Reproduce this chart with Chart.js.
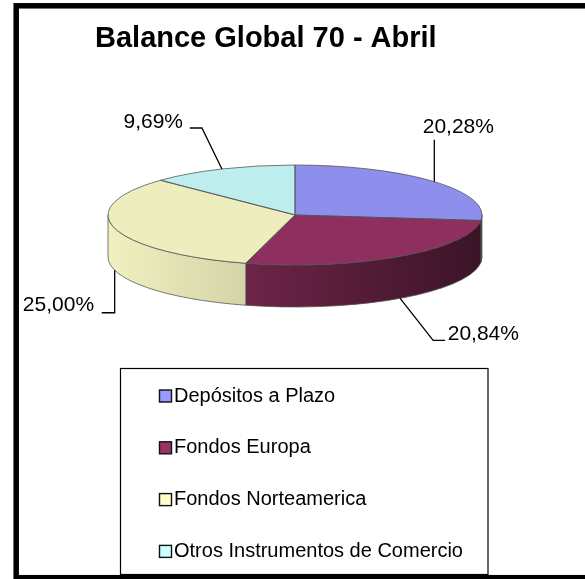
<!DOCTYPE html>
<html>
<head>
<meta charset="utf-8">
<title>Balance Global 70 - Abril</title>
<script src="https://cdn.jsdelivr.net/npm/chart.js@4/dist/chart.umd.min.js"></script>
<style>
  html, body { margin: 0; padding: 0; background: #fff; }
  canvas { display: block; }
</style>
</head>
<body>
<canvas id="balanceChart" width="585" height="579"></canvas>
<script>
// Chart data
const categories = ['Depósitos a Plazo', 'Fondos Europa', 'Fondos Norteamerica', 'Otros Instrumentos de Comercio'];
const shares = [20.28, 20.84, 25.00, 9.69];
const palette = ['#9999FF', '#993366', '#FFFFCC', '#CCFFFF'];

const FONT = "'Liberation Sans', Arial, sans-serif";
const EDGE = 'rgba(80,80,80,0.75)';

// 3D look of the pie
const PIE_CY = 215;      // centre of the top face
const TILT = 50 / 187;   // vertical squash of the top face
const DEPTH = 42;        // thickness of the pie
const TOP_SHADE = 0.93;
const sideShade = [[0.45, 0.4], [0.71, 0.385], [0.94, 0.83], [0.8, 0.7]];

// leader lines: elbow offset from the slice anchor, horizontal tail, text offset from tail end
const leaders = [
    { elbow: [0, -42], tail: 0, text: [-11.6, -12.5], align: 'left' },
    { elbow: [33, 42], tail: 12, text: [2.6, -6.4], align: 'left' },
    { elbow: [0, 42.5], tail: -13, text: [-7.6, -7.2], align: 'right' },
    { elbow: [-20, -41], tail: -12, text: [-6.9, -6], align: 'right' }
];

// Function to darken a hex colour by a factor
function shade(hex, f) {
    const n = parseInt(hex.slice(1), 16);
    const r = Math.round(((n >> 16) & 255) * f);
    const g = Math.round(((n >> 8) & 255) * f);
    const b = Math.round((n & 255) * f);
    return `rgb(${r},${g},${b})`;
}

function formatShare(v) {
    return v.toFixed(2).replace('.', ',') + '%';
}

// Plugin that gives the pie its thickness, outlines and labels
const pie3d = {
    id: 'pie3d',
    beforeDraw(chart) {
        const ctx = chart.ctx;
        ctx.save();
        ctx.fillStyle = '#fff';
        ctx.fillRect(0, 0, chart.width, chart.height);
        ctx.restore();
    },
    beforeDatasetsDraw(chart) {
        const ctx = chart.ctx;
        const arcs = chart.getDatasetMeta(0).data;
        const cx = arcs[0].x, cy = arcs[0].y, r = arcs[0].outerRadius;
        const ry = r * TILT;

        // side walls of the front half
        arcs.forEach((arc, i) => {
            const s = Math.max(arc.startAngle, 0);
            const e = Math.min(arc.endAngle, Math.PI);
            if (e <= s) return;
            const xl = cx + r * Math.cos(e);
            const xr = cx + r * Math.cos(s);
            const grad = ctx.createLinearGradient(xl, 0, xr, 0);
            grad.addColorStop(0, shade(palette[i], sideShade[i][0]));
            grad.addColorStop(1, shade(palette[i], sideShade[i][1]));
            ctx.beginPath();
            ctx.ellipse(cx, PIE_CY, r, ry, 0, s, e);
            ctx.ellipse(cx, PIE_CY + DEPTH, r, ry, 0, e, s, true);
            ctx.closePath();
            ctx.fillStyle = grad;
            ctx.fill();
            ctx.strokeStyle = EDGE;
            ctx.lineWidth = 1;
            ctx.stroke();
        });

        // squash the top face that Chart.js draws
        ctx.save();
        ctx.translate(0, PIE_CY);
        ctx.scale(1, TILT);
        ctx.translate(0, -cy);
    },
    afterDatasetsDraw(chart) {
        const ctx = chart.ctx;
        ctx.restore();

        const arcs = chart.getDatasetMeta(0).data;
        const values = chart.data.datasets[0].data;
        const cx = arcs[0].x, r = arcs[0].outerRadius;
        const ry = r * TILT;

        ctx.save();
        // outlines of the top face
        ctx.strokeStyle = EDGE;
        ctx.lineWidth = 1;
        arcs.forEach(arc => {
            ctx.beginPath();
            ctx.moveTo(cx, PIE_CY);
            ctx.ellipse(cx, PIE_CY, r, ry, 0, arc.startAngle, arc.endAngle);
            ctx.closePath();
            ctx.stroke();
        });

        // percentage labels with leader lines
        ctx.strokeStyle = '#000';
        ctx.lineWidth = 1.3;
        ctx.fillStyle = '#000';
        ctx.font = `21px ${FONT}`;
        ctx.textBaseline = 'middle';
        arcs.forEach((arc, i) => {
            const mid = (arc.startAngle + arc.endAngle) / 2;
            const ax = cx + r * Math.cos(mid);
            let ay = PIE_CY + ry * Math.sin(mid);
            if (Math.sin(mid) > 0) ay += DEPTH;
            const L = leaders[i];
            const ex = ax + L.elbow[0], ey = ay + L.elbow[1];
            const tx = ex + L.tail;
            ctx.beginPath();
            ctx.moveTo(ax, ay);
            ctx.lineTo(ex, ey);
            ctx.lineTo(tx, ey);
            ctx.stroke();
            ctx.textAlign = L.align;
            ctx.fillText(formatShare(values[i]), tx + L.text[0], ey + L.text[1]);
        });
        ctx.restore();
    }
};

// Plugin for the boxed legend and the outer frame
const boxLegend = {
    id: 'boxLegend',
    afterDraw(chart) {
        const ctx = chart.ctx;
        ctx.save();
        ctx.strokeStyle = '#000';
        ctx.lineWidth = 1.2;
        ctx.strokeRect(120.5, 368.5, 367.5, 206);

        ctx.font = `20px ${FONT}`;
        ctx.textBaseline = 'middle';
        ctx.textAlign = 'left';
        chart.data.labels.forEach((label, i) => {
            const y = 396 + i * 51.8;
            ctx.fillStyle = palette[i];
            ctx.fillRect(159.5, y - 6, 12, 12);
            ctx.lineWidth = 1.4;
            ctx.strokeStyle = '#111';
            ctx.strokeRect(159.5, y - 6, 12, 12);
            ctx.fillStyle = '#000';
            ctx.fillText(label, 174, y);
        });

        // outer frame
        ctx.strokeStyle = '#000';
        ctx.lineWidth = 5.5;
        ctx.strokeRect(16.2, 5.8, 700, 571.9);
        ctx.restore();
    }
};

const ctx = document.getElementById('balanceChart').getContext('2d');
const chart = new Chart(ctx, {
    type: 'pie',
    data: {
        labels: categories,
        datasets: [{
            data: shares,
            backgroundColor: palette.map(c => shade(c, TOP_SHADE)),
            borderWidth: 0,
            clip: false
        }]
    },
    options: {
        responsive: false,
        animation: false,
        layout: { padding: { left: 95, right: 90, top: 0, bottom: 148.2 } },
        plugins: {
            legend: { display: false },
            tooltip: { enabled: false },
            title: {
                display: true,
                text: 'Balance Global 70 - Abril',
                align: 'start',
                color: '#000',
                font: { family: FONT, size: 29, weight: 'bold', lineHeight: 1.2 },
                padding: { top: 22, bottom: 0 }
            }
        }
    },
    plugins: [pie3d, boxLegend]
});
</script>
</body>
</html>
